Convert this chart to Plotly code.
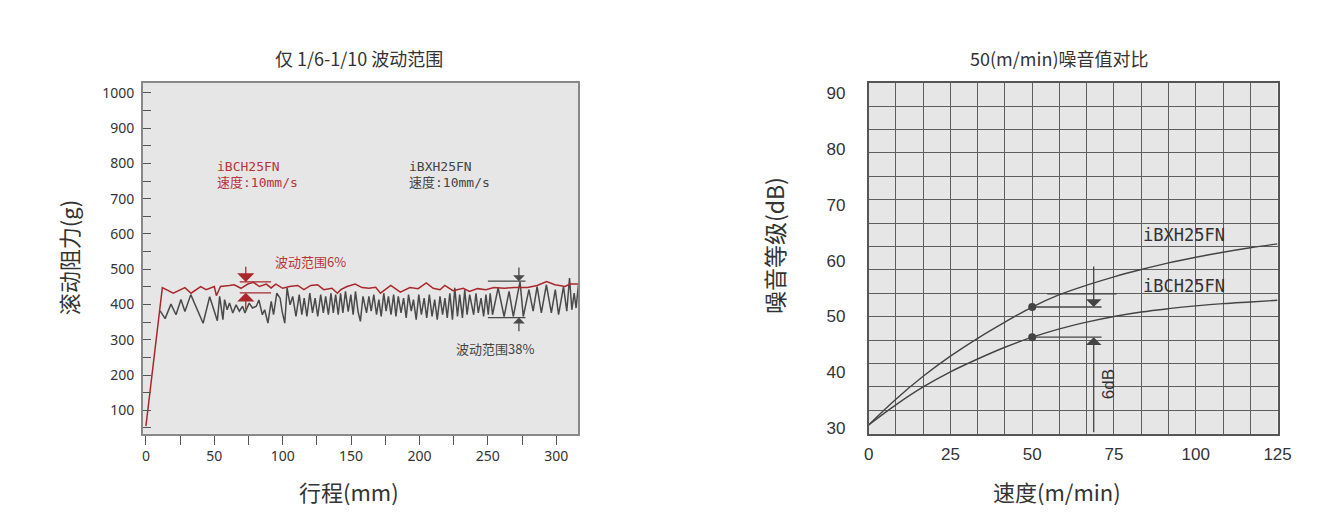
import plotly.graph_objects as go

# ---------------- Left chart data: rolling resistance vs stroke ----------------
bch_stroke = [0, 12, 20, 28.5, 33, 40, 44, 50, 51.5, 54.5, 61, 64.5, 69.5, 74.5, 78.5, 83, 88, 91.5,
              95, 100, 105, 111, 115.5, 120.5, 125.5, 130, 136, 140, 142.5, 147, 153, 158, 163, 168,
              171.5, 179, 186, 193, 199, 205, 210, 215, 218.5, 224.5, 232, 236.5, 242.5, 248.5, 254.5,
              262, 269, 279, 286, 293, 299, 306.5, 310, 316]
bch_force = [55, 448, 432, 448, 432, 451, 442, 451, 425, 451, 454, 456, 446, 458, 463, 451, 458, 447,
             458, 446, 451, 454, 442, 454, 456, 442, 446, 432, 442, 451, 458, 448, 446, 449,
             432, 454, 435, 448, 445, 461, 446, 442, 454, 439, 446, 437, 445, 442, 448,
             446, 448, 448, 454, 465, 456, 451, 458, 458]

bxh_stroke = [10.4, 14, 18.3, 22, 25.6, 28.5, 32.8, 41.8, 46.6, 52.2, 53.9, 56.3, 57.5, 59.4, 61.1, 63.5,
              65.9, 68.3, 70.7, 72.4, 75.5, 77.9,
              80.7, 82.6, 85.1, 86.8, 89.2, 91.6, 93.3, 95.7, 98.1, 99.6, 101.5, 103.2, 105.4, 107.3,
              109.7, 112.1, 114, 115.7, 117.7, 119.8, 121.8, 123.7, 125.6, 127.8, 129.7, 131.4, 133.4,
              135.3, 137, 138.7, 140.6, 142.3, 144, 145.9, 147.9, 149.8, 151.5, 153.2, 155.1, 156.8,
              158.7,
              161.3, 163.0, 164.7, 166.6, 168.6, 170.3, 172.0, 173.9, 175.6, 177.3, 179.2, 181.1, 182.8,
              184.5, 186.5, 188.4, 190.3, 192.0, 194.0, 195.6, 197.6, 199.5, 201.4, 203.4, 205.3, 207.2,
              209.2, 211.1, 213.0, 215.0, 216.9, 218.6, 220.3, 222.2, 224.1, 225.8, 227.8, 229.4, 231.4,
              233.1, 234.8, 236.7,
              239.6, 241.3, 243.0, 245.0, 246.9, 248.6, 250.3, 251.7, 253.4, 257.5, 261.9, 265.5, 268.6,
              273.5, 275.9, 280, 283.1, 286, 289.1, 292.8, 296.4, 299.3, 301.7, 305.3, 307.7, 309.7,
              311.4, 313.1, 314.5, 316.2]
bxh_force = [382, 360, 401, 371, 414, 380, 428, 347, 422, 354, 423, 357, 414, 385, 404, 376,
             399, 381, 395, 376, 404, 390,
             395, 413, 371, 385, 347, 409, 371, 432, 418, 380, 347, 447, 399, 423,
             366, 428, 371, 418, 366, 432, 376, 418, 366, 428, 376, 423, 371,
             432, 376, 428, 371, 432, 376, 437, 380, 428, 371, 437, 380, 352,
             423,
             376, 423, 381, 428, 371, 414, 366, 432, 381, 423, 371, 428, 366,
             423, 376, 418, 362, 428, 381, 414, 357, 428, 371, 418, 362, 428,
             366, 414, 357, 423, 371, 418, 362, 432, 357, 447, 366, 428, 362,
             442, 371, 428,
             371, 432, 376, 418, 366, 428, 371, 432, 371, 447, 366, 437, 366,
             465, 366, 442, 381, 451, 376, 456, 376, 442, 371, 451, 381, 475,
             385, 432, 390, 456]

left_yticks = [100, 200, 300, 400, 500, 600, 700, 800, 900, 1000]
left_xticks = [0, 50, 100, 150, 200, 250, 300]

# ---------------- Right chart data: noise level vs speed ----------------
speed = [0, 8.33, 16.67, 25, 33.33, 41.67, 50, 58.33, 66.67, 75, 83.33, 91.67, 100, 108.33, 116.67, 125]
noise_bxh = [30.6, 35.2, 39.3, 42.9, 46.1, 49.0, 51.7, 53.9, 55.6, 57.1, 58.4, 59.6, 60.6, 61.5, 62.3, 63.0]
noise_bch = [30.6, 34.2, 37.4, 40.1, 42.4, 44.5, 46.3, 47.8, 49.0, 50.0, 50.8, 51.4, 51.9, 52.3, 52.6, 52.9]
mark_speed = [50, 50]
mark_noise = [51.7, 46.3]
right_xticks = [0, 25, 50, 75, 100, 125]
right_yticks = [30, 40, 50, 60, 70, 80, 90]

RED = "#a8282c"
RED_TXT = "#b8333a"
GRAY = "#4a4a4a"
TXT = "#333333"
CJK = "Noto Sans CJK SC"
MONO = "DejaVu Sans Mono, Noto Sans CJK SC"

# page body keeps its default 8px margin; S nudges the layout scale
OX, OY = 8, 8
W, H = 1305, 515
S = 0.994


def px(x):
    return (x / S - OX) / W


def py(y):
    return 1 - (y / S - OY) / H


fig = go.Figure()

fig.add_trace(go.Scatter(x=bxh_stroke, y=bxh_force, mode="lines",
                         line=dict(color=GRAY, width=1.5), xaxis="x", yaxis="y", showlegend=False))
fig.add_trace(go.Scatter(x=bch_stroke, y=bch_force, mode="lines",
                         line=dict(color=RED, width=1.5), xaxis="x", yaxis="y", showlegend=False))

fig.add_trace(go.Scatter(x=speed, y=noise_bxh, mode="lines",
                         line=dict(color="#444", width=1.4, shape="spline", smoothing=1.0),
                         xaxis="x2", yaxis="y2", showlegend=False))
fig.add_trace(go.Scatter(x=speed, y=noise_bch, mode="lines",
                         line=dict(color="#444", width=1.4, shape="spline", smoothing=1.0),
                         xaxis="x2", yaxis="y2", showlegend=False))
fig.add_trace(go.Scatter(x=mark_speed, y=mark_noise, mode="markers", marker=dict(color="#444", size=8),
                         xaxis="x2", yaxis="y2", showlegend=False))

ylo2, yhi2 = 29.02, 91.82

fig.update_layout(
    width=W, height=H, autosize=False,
    margin=dict(l=0, r=0, t=0, b=0),
    paper_bgcolor="white",
    plot_bgcolor="#e6e6e6",
    font=dict(family="Noto Sans, " + CJK, color=TXT),
    xaxis=dict(domain=[px(139), px(578)], range=[-2.2, 316], anchor="y",
               tickvals=left_xticks, ticks="outside", ticklen=9, tickcolor="#555", tickwidth=1.2,
               minor=dict(dtick=25, tick0=0, ticks="outside", ticklen=9, tickcolor="#555", tickwidth=1.2),
               showgrid=False, zeroline=False, showline=True, linecolor="#888", linewidth=1.5, mirror=True,
               tickfont=dict(size=14, color=TXT, family="Noto Sans")),
    yaxis=dict(domain=[py(434.5), py(82.8)], range=[33.4, 1028.9], anchor="x",
               tickvals=left_yticks, ticks="inside", ticklen=8, tickcolor="#555", tickwidth=1.2,
               minor=dict(dtick=50, tick0=0, ticks="inside", ticklen=8, tickcolor="#555", tickwidth=1.2),
               showgrid=False, zeroline=False, showline=True, linecolor="#888", linewidth=1.5, mirror=True,
               ticklabelstandoff=4,
               tickfont=dict(size=14, color=TXT, family="Noto Sans")),
    xaxis2=dict(domain=[px(871), px(1283.5)], range=[0, 125], anchor="y2",
                tickvals=right_xticks, ticks="", showgrid=True, gridcolor="#5e5e5e", gridwidth=1,
                minor=dict(dtick=125 / 15, tick0=0, showgrid=True, gridcolor="#5e5e5e", gridwidth=1),
                zeroline=False, showline=True, linecolor="#555", linewidth=1.5, mirror=True,
                ticklabelstandoff=4, ticklabeloverflow="allow",
                tickfont=dict(size=17, color=TXT, family="Liberation Sans")),
    yaxis2=dict(domain=[py(434.5), py(82.8)], range=[ylo2, yhi2], anchor="x2",
                tickvals=right_yticks, ticks="", showgrid=False,
                minor=dict(dtick=(yhi2 - ylo2) / 15, tick0=ylo2, showgrid=True, gridcolor="#5e5e5e", gridwidth=1),
                zeroline=False, showline=True, linecolor="#555", linewidth=1.5, mirror=True,
                ticklabelstandoff=18,
                tickfont=dict(size=17, color=TXT, family="Liberation Sans")),
)

shapes = []


def hline(x0, x1, y, color, xr="x", yr="y", w=1.3):
    shapes.append(dict(type="line", xref=xr, yref=yr, x0=x0, x1=x1, y0=y, y1=y,
                       line=dict(color=color, width=w)))


# left chart markers
hline(68.6, 91.5, 464, RED)
hline(68.6, 91.5, 433, RED)
hline(250, 277.5, 466, GRAY)
hline(250, 277.5, 363, GRAY)
# right chart markers
hline(50, 71.2, 51.7, "#444", "x2", "y2")
hline(50, 71.2, 46.3, "#444", "x2", "y2")
hline(54.6, 75.8, 54.05, "#444", "x2", "y2")
fig.update_layout(shapes=shapes)

ann = []


def arrow(x, y, ay, color, xr="x", yr="y", size=1.6):
    ann.append(dict(x=x, y=y, ax=x, ay=ay, xref=xr, yref=yr, axref=xr, ayref=yr, text="",
                    showarrow=True, arrowhead=1, arrowsize=size, arrowwidth=1.3, arrowcolor=color))


arrow(73, 464, 511, RED, size=2.2)
arrow(73, 433, 381, RED, size=2.2)
arrow(272.7, 466, 509, GRAY, size=1.5)
arrow(272.7, 363, 320, GRAY, size=1.5)
arrow(68.8, 51.7, 59.2, "#444", "x2", "y2", size=2.0)
arrow(68.8, 46.3, ylo2, "#444", "x2", "y2", size=2.0)


def text(x, y, s, size, color, family, xr="x", yr="y", xanchor="left", angle=0):
    ann.append(dict(x=x, y=y, xref=xr, yref=yr, text=s, showarrow=False, xanchor=xanchor, yanchor="middle",
                    textangle=angle, font=dict(size=size, color=color, family=family)))


text(50.5, 792, "iBCH25FN", 13, RED_TXT, MONO)
text(50.5, 745, "速度:10mm/s", 13, RED_TXT, MONO)
text(190.6, 792, "iBXH25FN", 13, "#444", MONO)
text(190.6, 745, "速度:10mm/s", 13, "#444", MONO)
text(92.8, 523, "波动范围6%", 13, RED_TXT, CJK)
text(225.4, 275, "波动范围38%", 13, "#444", CJK)

text(83.3, 64.6, "iBXH25FN", 17, "#333", MONO, "x2", "y2")
text(83.3, 55.4, "iBCH25FN", 17, "#333", MONO, "x2", "y2")
text(73.2, 37.9, "6dB", 17, "#333", "Liberation Sans", "x2", "y2", xanchor="center", angle=-90)


def ptext(x, y, s, size, angle=0):
    ann.append(dict(x=px(x), y=py(y), xref="paper", yref="paper", text=s, showarrow=False,
                    xanchor="center", yanchor="middle", textangle=angle,
                    font=dict(size=size, color=TXT, family=CJK)))


ptext(357, 58, "仅 1/6-1/10 波动范围", 18)
ptext(1063, 58, "50(m/min)噪音值对比", 18)
ptext(347, 492, "行程(mm)", 22)
ptext(1061, 492, "速度(m/min)", 22)
ptext(63, 258, "滚动阻力(g)", 22, -90)
ptext(775, 246, "噪音等级(dB)", 23, -90)

fig.update_layout(annotations=ann)

fig.write_html("out.html", config={"displayModeBar": False})
